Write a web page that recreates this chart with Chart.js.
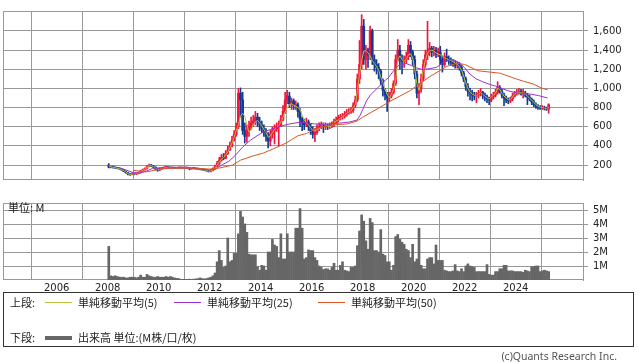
<!DOCTYPE html>
<html>
<head>
<meta charset="utf-8">
<script src="https://cdn.jsdelivr.net/npm/chart.js@4.4.1/dist/chart.umd.min.js"></script>
<style>
  body { margin: 0; background: #fff; width: 638px; height: 362px; overflow: hidden; position: relative; font-family: "Noto Sans CJK JP", sans-serif; }
  canvas { position: absolute; left: 0; }
  #price { top: 0; }
  #volume { top: 192px; }
  .t { position: absolute; font-size: 11px; line-height: 13px; color: #222; white-space: nowrap; }
  .sw { position: absolute; height: 1px; width: 27px; }
  .box { position: absolute; left: 3px; top: 292px; width: 629px; height: 53px; border: 1px solid #333; }
  .copy { position: absolute; right: 21px; top: 349px; font: 10.5px "Noto Sans", sans-serif; color: #555; }
</style>
</head>
<body>
<canvas id="price" width="638" height="191"></canvas>
<canvas id="volume" width="638" height="108"></canvas>
<div class="t" style="left:8px;top:201px">単位: M</div>

<div class="box"></div>
<div class="t" style="left:10px;top:296px">上段:</div>
<div class="sw" style="left:45px;top:302px;background:#b9c23a"></div>
<div class="t" style="left:78px;top:296px">単純移動平均(5)</div>
<div class="sw" style="left:174px;top:302px;background:#9933cc"></div>
<div class="t" style="left:207px;top:296px">単純移動平均(25)</div>
<div class="sw" style="left:318px;top:302px;background:#dd5522"></div>
<div class="t" style="left:351px;top:296px">単純移動平均(50)</div>
<div class="t" style="left:10px;top:331px">下段:</div>
<div class="sw" style="left:45px;top:336px;height:4px;background:#666"></div>
<div class="t" style="left:78px;top:331px">出来高 単位:(M株/口/枚)</div>
<div class="copy">(c)Quants Research Inc.</div>

<script>
// monthly candles, Jan 2008 .. Apr 2025
const open = [
  200, 178, 180, 175, 170, 165, 160, 150, 135, 120, 105, 100,
  110, 105, 110, 122, 138, 150, 165, 185, 195, 190, 178, 160,
  150, 160, 168, 175, 178, 172, 170, 172, 168, 170, 172, 170,
  170, 172, 168, 160, 165, 163, 160, 158, 155, 150, 145, 140,
  135, 145, 160, 185, 215, 250, 280, 270, 320, 360, 400, 460,
  520, 600, 950, 880, 560, 500, 560, 600, 640, 660, 700, 650,
  620, 580, 540, 500, 450, 520, 560, 580, 600, 620, 680, 760,
  880, 920, 840, 870, 820, 830, 760, 680, 640, 620, 650, 600,
  560, 520, 540, 590, 600, 620, 600, 610, 600, 610, 630, 650,
  670, 690, 700, 710, 730, 750, 760, 770, 820, 880, 1100, 1250,
  1650, 1300, 1400, 1350, 1600, 1300, 1250, 1220, 1180, 1080, 980, 930,
  900, 920, 960, 1050, 1300, 1400, 1300, 1280, 1300, 1330, 1450, 1380,
  1300, 1150, 950, 1000, 1100, 1250, 1350, 1380, 1420, 1380, 1400, 1360,
  1380, 1300, 1250, 1330, 1310, 1290, 1270, 1260, 1240, 1250, 1220, 1160,
  1100, 1020, 970, 950, 930, 920, 930, 950, 960, 930, 910, 890,
  880, 910, 930, 960, 1010, 970, 930, 900, 880, 870, 890, 920,
  950, 960, 970, 950, 950, 930, 910, 890, 860, 830, 810, 800,
  795, 800, 790, 785
];
const high = [
  215, 190, 188, 180, 175, 170, 165, 155, 140, 125, 112, 118,
  115, 118, 128, 145, 158, 172, 195, 210, 205, 195, 182, 165,
  168, 175, 182, 185, 180, 176, 178, 175, 175, 178, 175, 174,
  176, 175, 170, 168, 168, 166, 163, 160, 157, 153, 148, 143,
  155, 170, 200, 240, 280, 310, 320, 350, 400, 440, 500, 560,
  640, 1000, 1005, 960, 640, 620, 660, 700, 720, 760, 740, 700,
  660, 620, 580, 540, 560, 600, 620, 640, 660, 720, 820, 960,
  980, 960, 900, 890, 870, 850, 790, 700, 680, 690, 670, 630,
  600, 580, 620, 640, 650, 640, 640, 630, 640, 650, 680, 700,
  720, 730, 740, 760, 780, 790, 800, 850, 920, 1150, 1500, 1770,
  1720, 1450, 1420, 1650, 1620, 1350, 1300, 1260, 1200, 1100, 1000, 960,
  960, 1000, 1080, 1350, 1510, 1450, 1350, 1340, 1380, 1510, 1490, 1400,
  1340, 1180, 1050, 1150, 1300, 1400, 1700, 1480, 1440, 1440, 1430, 1420,
  1440, 1340, 1370, 1410, 1340, 1320, 1300, 1290, 1280, 1270, 1240, 1180,
  1120, 1050, 1000, 980, 960, 960, 980, 1000, 970, 950, 930, 910,
  940, 960, 990, 1070, 1030, 990, 950, 920, 900, 910, 950, 970,
  990, 1000, 990, 990, 970, 950, 930, 900, 880, 850, 830, 820,
  820, 815, 805, 840
];
const low = [
  170, 170, 168, 165, 160, 155, 145, 130, 115, 98, 92, 98,
  98, 100, 108, 118, 134, 146, 160, 180, 182, 172, 150, 135,
  140, 155, 164, 170, 168, 165, 166, 164, 165, 167, 166, 166,
  167, 164, 150, 156, 158, 156, 154, 150, 146, 140, 134, 128,
  128, 140, 155, 180, 205, 240, 255, 265, 310, 350, 390, 450,
  500, 580, 700, 520, 430, 440, 500, 570, 600, 620, 600, 560,
  540, 500, 450, 380, 400, 480, 420, 550, 400, 600, 660, 740,
  840, 800, 780, 780, 780, 700, 600, 560, 570, 600, 560, 520,
  480, 445, 520, 560, 580, 540, 570, 570, 580, 590, 600, 630,
  650, 670, 680, 690, 710, 730, 740, 750, 800, 860, 1050, 1200,
  1250, 1200, 1220, 1300, 1250, 1180, 1150, 1100, 1040, 920, 880, 760,
  860, 900, 940, 1030, 1280, 1200, 1150, 1220, 1260, 1300, 1330, 1240,
  1100, 900, 830, 960, 1080, 1220, 1300, 1340, 1330, 1340, 1320, 1330,
  1250, 1170, 1230, 1280, 1250, 1240, 1230, 1210, 1210, 1190, 1130, 1070,
  980, 920, 880, 870, 880, 850, 900, 920, 890, 870, 850, 830,
  860, 890, 910, 940, 950, 900, 820, 850, 840, 850, 870, 910,
  930, 940, 930, 900, 910, 830, 870, 830, 810, 790, 780, 780,
  780, 775, 770, 740
];
const close = [
  178, 180, 175, 170, 165, 160, 150, 135, 120, 105, 100, 110,
  105, 110, 122, 138, 150, 165, 185, 195, 190, 178, 160, 150,
  160, 168, 175, 178, 172, 170, 172, 168, 170, 172, 170, 170,
  172, 168, 160, 165, 163, 160, 158, 155, 150, 145, 140, 135,
  145, 160, 185, 215, 250, 280, 270, 320, 360, 400, 460, 520,
  600, 950, 880, 560, 500, 560, 600, 640, 660, 700, 650, 620,
  580, 540, 500, 450, 520, 560, 580, 600, 620, 680, 760, 880,
  920, 840, 870, 820, 830, 760, 680, 640, 620, 650, 600, 560,
  520, 540, 590, 600, 620, 600, 610, 600, 610, 630, 650, 670,
  690, 700, 710, 730, 750, 760, 770, 820, 880, 1100, 1250, 1650,
  1300, 1400, 1350, 1600, 1300, 1250, 1220, 1180, 1080, 980, 930, 900,
  920, 960, 1050, 1300, 1400, 1300, 1280, 1300, 1330, 1450, 1380, 1300,
  1150, 950, 1000, 1100, 1250, 1350, 1380, 1420, 1380, 1400, 1360, 1380,
  1300, 1250, 1330, 1310, 1290, 1270, 1260, 1240, 1250, 1220, 1160, 1100,
  1020, 970, 950, 930, 920, 930, 950, 960, 930, 910, 890, 880,
  910, 930, 960, 1010, 970, 930, 900, 880, 870, 890, 920, 950,
  960, 970, 950, 950, 930, 910, 890, 860, 830, 810, 800, 795,
  800, 790, 785, 830
];
const ma5 = [
  195, 182, 177, 172, 167, 162, 154, 142, 128, 112, 103, 105,
  107, 110, 118, 132, 145, 158, 175, 190, 193, 185, 168, 155,
  153, 162, 171, 176, 174, 171, 171, 170, 169, 171, 170, 170,
  171, 170, 164, 163, 163, 161, 159, 156, 152, 147, 142, 137,
  140, 150, 170, 200, 235, 260, 278, 305, 335, 380, 430, 490,
  560, 620, 710, 740, 710, 620, 545, 565, 620, 650, 665, 640,
  610, 570, 540, 490, 500, 540, 575, 595, 610, 650, 700, 750,
  800, 830, 840, 825, 815, 800, 780, 720, 670, 640, 620, 590,
  560, 555, 570, 580, 600, 630, 620, 605, 600, 610, 640, 660,
  670, 690, 705, 720, 740, 755, 765, 800, 830, 980, 1150, 1290,
  1390, 1395, 1370, 1340, 1290, 1260, 1230, 1190, 1120, 1060, 990, 940,
  900, 940, 990, 1080, 1300, 1340, 1300, 1280, 1310, 1350, 1360, 1320,
  1200, 1050, 980, 1060, 1200, 1300, 1370, 1390, 1400, 1390, 1370, 1360,
  1350, 1330, 1320, 1310, 1300, 1290, 1280, 1265, 1250, 1230, 1190, 1130,
  1060, 1000, 960, 940, 930, 920, 940, 955, 940, 920, 900, 890,
  910, 930, 950, 1000, 990, 950, 920, 900, 880, 885, 910, 940,
  955, 960, 955, 950, 940, 920, 900, 880, 855, 830, 815, 805,
  800, 795, 790, 800
];
// volume, millions
const volume = [
  2.4, 0.3, 0.25, 0.3, 0.25, 0.2, 0.2, 0.2, 0.15, 0.15, 0.2, 0.2,
  0.2, 0.15, 0.2, 0.35, 0.2, 0.2, 0.4, 0.3, 0.25, 0.2, 0.2, 0.25,
  0.2, 0.2, 0.2, 0.25, 0.2, 0.25, 0.2, 0.15, 0.12, 0.1, 0.05, 0.05,
  0.05, 0.05, 0.06, 0.05, 0.06, 0.08, 0.1, 0.15, 0.1, 0.08, 0.1, 0.15,
  0.2, 0.3, 0.5, 1.3, 2.1, 1.4, 0.9, 1.0, 3.0, 1.3, 1.4, 1.9,
  1.9, 3.3, 4.9, 4.5, 4.0, 3.4, 1.85, 1.8, 1.8, 1.8, 0.95, 0.7,
  1.05, 1.0, 0.7, 2.0, 2.0, 2.9, 2.5, 2.4, 1.6, 3.3, 1.5, 1.5,
  3.3, 2.0, 2.0, 2.0, 3.7, 3.7, 5.1, 3.7, 1.5, 1.6, 2.15, 2.1,
  2.1, 1.6, 1.4, 1.0, 0.9, 0.75, 0.8, 0.8, 0.7, 0.9, 1.2, 0.7,
  0.7, 1.05, 1.3, 0.7, 0.65, 0.6, 0.9, 0.9, 1.0, 2.45, 3.5, 4.65,
  4.2, 2.8, 2.2, 4.4, 4.1, 2.1, 2.1, 2.0, 3.6, 1.85, 1.75, 1.3,
  1.3, 0.7, 1.05, 3.1, 3.25, 2.9, 2.7, 2.55, 2.2, 2.1, 1.6, 2.55,
  1.3, 1.5, 3.7, 1.05, 0.8, 0.8, 1.5, 1.6, 1.6, 1.15, 2.5, 1.4,
  1.4, 1.4, 0.7, 0.65, 0.6, 0.6, 0.65, 1.1, 0.65, 0.6, 0.8, 0.6,
  1.0, 1.15, 1.0, 0.95, 0.9, 0.6, 0.6, 0.6, 0.6, 0.6, 1.1, 0.4,
  0.35, 0.35, 0.6, 0.6, 0.8, 0.8, 1.05, 1.05, 0.65, 0.65, 0.65, 0.6,
  0.6, 0.6, 0.6, 0.55, 0.7, 0.65, 0.6, 0.95, 0.95, 1.0, 1.0, 0.6,
  0.65, 0.7, 0.65, 0.6
];
// longer averages at sample dates (decimal years)
const ma25Dates = [2008.5, 2008.75, 2009.0, 2009.25, 2009.5, 2009.75, 2010.0, 2010.25, 2010.5, 2010.75,
  2011.0, 2011.25, 2011.5, 2011.75, 2012.0, 2012.25, 2012.5, 2012.75, 2013.0, 2013.3, 2013.6, 2014.0,
  2014.36, 2014.75, 2015.15, 2015.5, 2015.8, 2016.1, 2016.5, 2017.0, 2017.5, 2017.78, 2017.9, 2018.0,
  2018.15, 2018.3, 2018.45, 2018.6, 2018.82, 2019.0, 2019.2, 2019.41, 2019.7, 2019.9, 2020.1, 2020.3,
  2020.6, 2020.9, 2021.15, 2021.4, 2021.6, 2021.8, 2022.0, 2022.2, 2022.45, 2022.7, 2023.0, 2023.2,
  2023.45, 2023.7, 2024.1, 2024.6, 2024.9, 2025.25];
const ma25 = [168, 145, 122, 115, 135, 165, 172, 168, 172, 171,
  170, 166, 162, 156, 150, 162, 205, 240, 300, 390, 460, 530,
  570, 605, 630, 645, 640, 630, 625, 635, 650, 670, 720, 780,
  870, 930, 970, 1010, 1070, 1110, 1180, 1240, 1260, 1240, 1215, 1200,
  1205, 1220, 1270, 1300, 1295, 1265, 1215, 1150, 1100, 1070, 1040, 1025,
  1000, 975, 950, 940, 925, 900];
const ma50Dates = [2009.0, 2009.5, 2010.0, 2010.5, 2011.0, 2011.5, 2012.0, 2012.4, 2012.9, 2013.2,
  2013.7, 2014.1, 2014.5, 2015.0, 2015.45, 2015.8, 2016.2, 2016.7, 2017.4, 2017.78, 2018.0, 2018.6,
  2019.07, 2019.85, 2020.6, 2021.3, 2021.7, 2022.0, 2022.5, 2023.0, 2023.4, 2023.9, 2024.3, 2024.7,
  2025.0, 2025.25];
const ma50 = [145, 128, 155, 168, 170, 166, 158, 170, 200, 250,
  295, 325, 370, 430, 505, 530, 585, 615, 630, 660, 700, 790,
  865, 975, 1118, 1230, 1262, 1250, 1185, 1170, 1158, 1110, 1075, 1045,
  1005, 985];

const yearTicks = [2006, 2008, 2010, 2012, 2014, 2016, 2018, 2020, 2022, 2024];
const priceTicks = [200, 400, 600, 800, 1000, 1200, 1400, 1600];
const volumeTicks = [1, 2, 3, 4, 5];

const firstYear = 2008;
const monthX = close.map((_, i) => firstYear + (i + 0.5) / 12);

const xMin = 2003.894, xMax = 2026.639;
const gridColor = '#999999';
const upColor = '#f2143c', downColor = '#113b93';
const tickFont = { family: 'DejaVu Sans', size: 10 };
const tickColor = '#222';

const candleColors = close.map((c, i) => c >= open[i] ? upColor : downColor);

// grey frame round the plot area
const frame = {
  id: 'frame',
  beforeDatasetsDraw(chart) {
    const a = chart.chartArea, ctx = chart.ctx;
    ctx.save();
    ctx.strokeStyle = gridColor;
    ctx.lineWidth = 1;
    ctx.strokeRect(Math.round(a.left) + 0.5, Math.round(a.top) + 0.5,
      Math.round(a.right - a.left), Math.round(a.bottom - a.top) - 1);
    ctx.restore();
  }
};

function xScale(showLabels) {
  return {
    type: 'linear', min: xMin, max: xMax, offset: false,
    grid: { color: gridColor, drawTicks: false },
    border: { display: false },
    ticks: { display: showLabels, padding: 2, font: tickFont, color: tickColor, maxRotation: 0, callback: v => String(v) },
    afterBuildTicks: s => { s.ticks = yearTicks.map(v => ({ value: v })); },
    afterFit: s => { s.height = showLabels ? 20 : 0; }
  };
}

function yScale(min, max, ticks, fmt) {
  return {
    position: 'right', min, max,
    grid: { color: gridColor, tickLength: 5 },
    border: { color: gridColor },
    ticks: { padding: 5, font: tickFont, color: tickColor, callback: fmt },
    afterBuildTicks: s => { s.ticks = ticks.map(v => ({ value: v })); },
    afterFit: s => { s.width = 55; }
  };
}

const lineSet = (label, xs, ys, color) => ({
  type: 'line', label, data: ys.map((v, i) => ({ x: xs[i], y: v })),
  borderColor: color, borderWidth: 1, pointRadius: 0, tension: 0, order: 0
});

new Chart(document.getElementById('price'), {
  type: 'bar',
  data: {
    datasets: [
      lineSet('単純移動平均(50)', ma50Dates, ma50, '#dd5522'),
      lineSet('単純移動平均(25)', ma25Dates, ma25, '#9933cc'),
      lineSet('単純移動平均(5)', monthX, ma5, '#b9c23a'),
      {
        label: 'body', data: open.map((o, i) => ({ x: monthX[i], y: [o, close[i]] })),
        backgroundColor: candleColors, barThickness: 2, minBarLength: 1, grouped: false, order: 1
      },
      {
        label: 'wick', data: low.map((l, i) => ({ x: monthX[i], y: [l, high[i]] })),
        backgroundColor: candleColors, barThickness: 1, grouped: false, order: 2
      }
    ]
  },
  options: {
    responsive: false, animation: false, events: [],
    layout: { padding: { left: 3, top: 1, right: 0, bottom: 0 } },
    plugins: { legend: { display: false }, tooltip: { enabled: false } },
    scales: {
      x: xScale(false),
      y: yScale(44, 1808, priceTicks, v => v.toLocaleString('en-US'))
    }
  },
  plugins: [frame]
});

new Chart(document.getElementById('volume'), {
  type: 'bar',
  data: {
    datasets: [{
      label: '出来高', data: volume.map((v, i) => ({ x: monthX[i], y: v })),
      backgroundColor: '#666666', barThickness: 2, grouped: false
    }]
  },
  options: {
    responsive: false, animation: false, events: [],
    layout: { padding: { left: 3, top: 10, right: 0, bottom: 0 } },
    plugins: { legend: { display: false }, tooltip: { enabled: false } },
    scales: {
      x: xScale(true),
      y: yScale(0, 5.5, volumeTicks, v => v + 'M')
    }
  },
  plugins: [frame]
});
</script>
</body>
</html>
